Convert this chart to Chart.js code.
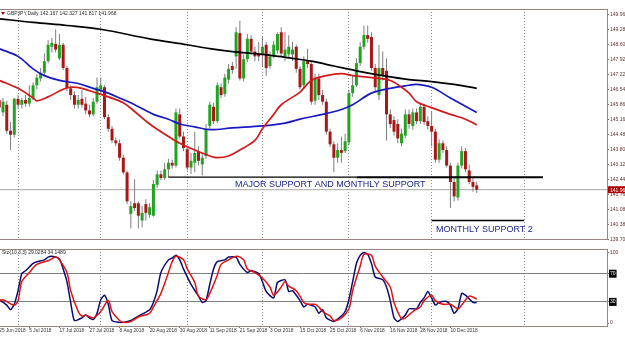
<!DOCTYPE html>
<html>
<head>
<meta charset="utf-8">
<script src="https://cdn.jsdelivr.net/npm/chart.js@4.4.1/dist/chart.umd.min.js"></script>
<style>
    html, body { margin: 0; padding: 0; background: #ffffff; }
    body { width: 625px; height: 337px; position: relative; overflow: hidden; }
    #main { position: absolute; left: 0; top: 0; }
    #osc { position: absolute; left: 0; top: 240px; }
</style>
</head>
<body>
<canvas id="main" width="625" height="242"></canvas>
<canvas id="osc" width="625" height="97"></canvas>
<script>
// ========================================
// GBPJPY 일봉 - 데이터
// ========================================

// 캔들 (2018-06-25 부터 거래일 순서)
const opens = [
    146.07,145.50,145.85,144.66,144.48,146.12,145.85,146.07,145.90,146.16,
    146.74,147.05,147.31,147.84,148.50,148.63,147.97,148.59,147.53,146.60,
    146.29,145.85,146.12,145.90,145.59,145.41,145.99,146.47,146.65,145.28,
    144.75,144.22,144.09,143.43,142.76,140.86,141.35,141.35,140.56,141.31,
    140.82,140.78,142.19,142.67,142.50,142.90,143.20,143.07,145.41,144.40,
    143.82,142.98,143.20,143.73,143.12,143.51,144.88,145.76,145.10,146.65,
    146.34,147.00,147.62,148.06,149.12,147.05,147.93,148.86,148.28,148.19,
    148.15,148.59,147.62,148.06,148.33,149.16,148.06,148.15,148.15,148.50,
    147.49,146.74,147.84,147.71,146.03,147.05,146.29,145.99,144.62,144.04,
    143.43,143.78,143.73,144.13,146.38,146.74,147.75,148.50,149.03,148.94,
    147.53,146.29,147.53,147.40,145.41,145.15,144.97,144.09,144.44,145.41,
    144.88,145.50,145.10,145.76,145.10,144.88,144.62,143.34,144.09,143.78,
    143.07,142.32,141.61,143.07,143.73,142.85,142.32,142.167
];
const highs = [
    146.29,146.16,146.03,145.06,146.16,146.29,146.16,146.29,146.74,146.87,
    147.27,147.53,148.19,148.81,148.90,149.30,149.08,148.68,147.62,146.74,
    146.47,146.29,146.52,146.21,145.85,146.16,147.09,147.09,146.74,145.41,
    144.88,144.35,144.26,143.56,142.85,141.44,142.45,141.44,141.22,141.53,
    141.35,142.41,142.85,142.85,143.20,143.38,143.34,145.68,145.68,144.62,
    143.87,143.65,144.62,143.95,143.65,144.97,145.99,145.94,146.87,146.82,
    147.27,147.71,147.80,149.39,149.69,148.15,149.08,149.03,148.50,148.72,
    148.94,148.72,148.28,148.77,149.16,149.39,149.16,149.03,148.72,148.59,
    147.62,148.06,148.41,147.84,147.27,147.27,146.52,146.12,144.75,144.18,
    144.09,144.40,144.53,146.52,147.18,147.97,148.72,149.47,149.47,149.16,
    147.71,148.59,148.28,147.97,145.63,145.32,145.19,144.75,145.63,145.63,
    145.68,145.68,145.94,145.90,145.32,145.54,144.75,144.26,144.22,143.95,
    143.20,142.50,143.20,143.95,143.87,143.12,142.50,142.327
];
const lows = [
    145.50,145.32,144.53,143.78,144.35,145.68,145.68,145.76,145.76,146.07,
    146.56,146.91,147.18,147.75,148.24,148.24,147.88,147.44,146.47,146.07,
    145.68,145.68,145.72,145.41,145.28,145.32,145.90,146.29,145.19,144.62,
    144.09,143.95,143.29,142.67,141.31,140.20,141.00,140.20,140.25,140.56,
    140.69,140.73,142.06,142.41,142.41,142.54,142.94,142.98,144.31,143.73,
    142.85,142.67,142.76,143.07,142.63,143.38,144.75,144.97,145.01,146.16,
    146.21,146.82,147.27,147.49,146.96,146.91,147.80,148.15,147.84,147.84,
    147.62,147.18,147.49,147.97,148.19,148.06,147.84,147.97,147.84,147.31,
    146.56,146.60,147.53,145.85,145.85,146.07,145.85,144.48,143.91,142.76,
    143.20,143.20,143.65,144.00,146.21,146.65,147.62,148.37,148.68,147.40,
    146.47,146.07,146.96,144.22,144.79,144.44,144.09,143.95,144.31,144.75,
    144.71,144.97,144.97,144.93,144.71,143.95,143.20,143.20,143.65,142.98,
    141.13,141.44,141.48,142.94,142.76,142.23,141.88,141.817
];
const closes = [
    145.72,145.99,144.66,144.48,146.12,145.85,146.07,145.90,146.16,146.74,
    147.09,147.31,147.84,148.59,148.68,148.37,148.59,147.53,146.60,146.29,
    145.85,146.07,145.85,145.59,145.41,145.99,146.65,146.74,145.28,144.75,
    144.22,144.09,143.43,142.76,141.44,141.22,141.13,140.78,140.91,140.91,
    141.17,142.23,142.67,142.50,142.90,143.20,143.07,145.50,144.40,143.87,
    142.98,143.29,143.65,143.29,143.43,144.75,145.85,145.10,146.74,146.29,
    147.09,147.49,147.44,149.16,147.05,147.93,148.86,148.28,148.06,148.06,
    148.50,147.53,148.06,148.59,149.08,148.19,148.37,148.50,148.37,147.49,
    146.65,147.84,147.71,145.99,147.09,146.29,145.99,144.62,144.04,143.43,
    143.78,143.65,144.18,146.38,146.74,147.75,148.50,149.03,148.86,147.53,
    146.65,147.53,147.18,145.41,144.97,144.62,144.31,144.53,145.41,144.97,
    145.50,145.10,145.76,145.06,144.88,144.62,143.34,144.09,143.78,143.07,
    142.32,141.66,143.07,143.73,142.90,142.32,142.10,141.968
];

// 이동평균선 [거래일 번호, 값]
const maBlack = [[0,149.78],[9,149.61],[18,149.47],[27,149.30],[40,148.86],[50,148.59],[56,148.41],[62,148.28],[70,148.15],[78,147.97],[83,147.84],[89,147.62],[95,147.40],[102,147.18],[109,147.00],[115,146.91],[121,146.78],[127,146.60]];
const maBlue = [[0,148.41],[5,148.06],[9,147.49],[12,147.18],[16,146.96],[21,146.82],[25,146.60],[29,146.38],[32,146.16],[36,145.85],[41,145.41],[45,145.19],[48,144.97],[52,144.84],[56,144.71],[62,144.79],[70,144.88],[76,145.01],[80,145.19],[86,145.41],[91,145.63],[94,145.85],[99,146.38],[104,146.60],[109,146.74],[111,146.78],[115,146.65],[120,146.16],[127,145.50]];
const maRed = [[0,146.96],[5,146.60],[9,146.16],[10,146.03],[13,146.21],[17,146.56],[19,146.65],[22,146.60],[26,146.38],[29,146.21],[33,145.94],[36,145.54],[40,144.97],[45,144.40],[48,144.09],[52,143.78],[56,143.51],[58,143.43],[61,143.51],[64,143.78],[68,144.22],[70,144.75],[73,145.41],[75,145.85],[80,146.43],[83,146.96],[87,147.18],[91,147.27],[94,147.18],[99,147.09],[104,146.96],[107,146.65],[109,146.38],[111,145.99],[115,145.72],[120,145.41],[124,145.19],[127,144.93]];

// 스토캐스틱 (10,3,3)
const stochK = [[0,33.5],[2,25.4],[3,18.9],[4,26.6],[5,45.9],[6,70.4],[7,74.3],[9,84.6],[10,87.1],[12,89.7],[13,93.6],[14,94.9],[16,91.0],[17,76.8],[18,58.8],[19,29.2],[20,3.5],[22,7.3],[23,11.2],[24,7.3],[25,4.8],[26,13.8],[27,33.1],[28,39.5],[29,26.6],[30,3.5],[32,0.9],[33,0.9],[35,3.5],[37,9.9],[38,12.5],[40,18.9],[41,29.2],[42,45.9],[43,71.7],[45,89.7],[46,92.3],[47,96.1],[48,89.7],[49,76.8],[51,55.0],[53,38.2],[54,29.2],[55,31.8],[56,55.0],[57,76.8],[58,87.1],[60,89.7],[61,93.6],[63,93.6],[64,83.3],[66,71.7],[67,74.3],[69,70.4],[70,58.8],[71,44.7],[73,35.6],[74,57.5],[76,61.4],[77,44.7],[78,45.9],[80,31.8],[81,22.8],[82,26.6],[84,22.8],[85,13.8],[86,18.9],[87,7.3],[89,2.2],[91,9.9],[92,16.3],[93,33.1],[94,58.8],[95,84.6],[96,96.1],[97,100],[98,97.4],[99,84.6],[100,65.3],[102,61.4],[103,51.1],[104,31.8],[105,7.3],[106,2.2],[108,11.2],[109,20.2],[111,20.2],[112,29.2],[113,35.6],[114,44.7],[115,35.6],[116,25.4],[117,29.2],[119,30.5],[120,25.4],[121,13.8],[122,20.2],[123,42.1],[124,39.5],[126,29.2],[127,29.03]];
const stochD = [[0,31.8],[1,33.1],[4,25.4],[5,31.8],[6,58.8],[8,71.7],[10,83.3],[13,88.4],[15,93.6],[16,89.7],[18,71.7],[19,45.9],[21,16.3],[22,9.9],[23,11.2],[25,7.3],[27,16.3],[29,31.8],[30,16.3],[32,3.5],[33,0.9],[35,2.2],[37,8.6],[40,13.8],[41,22.8],[43,42.1],[45,71.7],[46,87.1],[47,94.9],[49,89.7],[50,76.8],[52,57.5],[53,38.2],[55,33.1],[56,42.1],[58,67.8],[59,83.3],[61,89.7],[63,94.9],[65,89.7],[66,76.8],[68,71.7],[70,64.0],[72,51.1],[73,39.5],[75,51.1],[76,58.8],[77,52.4],[79,45.9],[81,29.2],[82,26.6],[84,26.6],[85,22.8],[86,16.3],[88,9.9],[89,3.5],[91,7.3],[93,20.2],[94,45.9],[96,80.7],[97,97.4],[99,96.1],[100,80.7],[102,65.3],[104,51.1],[105,29.2],[107,6.0],[108,7.3],[110,16.3],[112,22.8],[113,31.8],[115,39.5],[116,31.8],[118,26.6],[120,26.6],[122,20.2],[123,25.4],[125,38.2],[127,34.15]];

// 축 눈금
const priceTicks = [139.700,140.380,141.080,141.760,142.440,143.120,143.800,144.480,145.160,145.860,146.540,147.220,147.920,148.600,149.280,149.960];
const stochTicks = [0, 30, 70, 100];
const stochLevels = [30, 70];
const dateLabels = ['25 Jun 2018','5 Jul 2018','17 Jul 2018','27 Jul 2018','8 Aug 2018','20 Aug 2018','30 Aug 2018','11 Sep 2018','21 Sep 2018','3 Oct 2018','15 Oct 2018','25 Oct 2018','6 Nov 2018','16 Nov 2018','28 Nov 2018','10 Dec 2018'];
const monthStarts = [5, 27, 50, 70, 93, 115, 139.6];

// 지지선 / 메모
const majorSupport = 142.54;
const majorSupportRange = [45, 95, 144.6];
const monthlySupport2 = 140.56;
const monthlySupport2Range = [115, 139.6];
const notes = [
    { text: 'MAJOR SUPPORT AND MONTHLY SUPPORT', at: 62.7, price: 142.19 },
    { text: 'MONTHLY SUPPORT 2', at: 116.2, price: 140.16 }
];

// ========================================
// 공통
// ========================================
const X_MIN = 0.2;
const X_MAX = 161.65;
const FONT = '"Liberation Sans", Arial, sans-serif';
const SMALL_FONT = '"Liberation Sans Narrow", "Liberation Sans", Arial, sans-serif';
const UP = '#22a322';
const DOWN = '#ab1616';
const FRAME = '#9a8484';
const AXIS_TEXT = '#6a3030';

const monthNames = ['Jan','Feb','Mar','Apr','May','Jun','Jul','Aug','Sep','Oct','Nov','Dec'];

// 거래일 목록 (주말 제외)
function tradingDays(start, count) {
    const list = [];
    const d = new Date(start);
    while (list.length < count) {
        const wd = d.getUTCDay();
        if (wd !== 0 && wd !== 6) {
            list.push(d.getUTCDate() + ' ' + monthNames[d.getUTCMonth()] + ' ' + d.getUTCFullYear());
        }
        d.setUTCDate(d.getUTCDate() + 1);
    }
    return list;
}
const dates = tradingDays(Date.UTC(2018, 5, 25), closes.length);
const dateTickIdx = dateLabels.map(l => dates.indexOf(l));

const toPoints = arr => arr.map(p => ({ x: p[0], y: p[1] }));

function lineDs(points, color, width, order) {
    return {
        type: 'line',
        data: toPoints(points),
        borderColor: color,
        borderWidth: width,
        pointRadius: 0,
        tension: 0.35,
        fill: false,
        order: order
    };
}

function levelDs(from, to, price, width) {
    return {
        type: 'line',
        data: [{ x: from, y: price }, { x: to, y: price }],
        borderColor: '#000000',
        borderWidth: width,
        pointRadius: 0,
        fill: false,
        order: 1
    };
}

function fixAxis(width) {
    return function(scale) {
        scale.width = width;
        scale.paddingTop = 0;
        scale.paddingBottom = 0;
    };
}

// ========================================
// 가격 차트
// ========================================
const idx = closes.map((c, i) => i);
const lastClose = closes[closes.length - 1];
const last = closes.length - 1;
const headerText = 'GBPJPY,Daily ' + [opens[last], highs[last], lows[last], closes[last]].map(v => v.toFixed(3)).join(' ');

const mainText = {
    id: 'mainText',
    afterDatasetsDraw(chart) {
        const { ctx, scales: { x, y } } = chart;
        ctx.save();
        ctx.font = '9px ' + FONT;
        ctx.fillStyle = '#1d2890';
        ctx.textBaseline = 'middle';
        notes.forEach(n => ctx.fillText(n.text, x.getPixelForValue(n.at), y.getPixelForValue(n.price)));
        ctx.restore();
    },
    afterDraw(chart) {
        const { ctx, chartArea: a, scales: { y } } = chart;
        ctx.save();
        // 좌상단 심볼 표시
        ctx.fillStyle = '#c00000';
        ctx.beginPath();
        ctx.moveTo(a.left + 1, a.top + 3);
        ctx.lineTo(a.left + 5, a.top + 3);
        ctx.lineTo(a.left + 3, a.top + 6);
        ctx.closePath();
        ctx.fill();
        ctx.font = '5px ' + SMALL_FONT;
        ctx.fillStyle = '#2a2a2a';
        ctx.textBaseline = 'middle';
        ctx.fillText(headerText, a.left + 7, a.top + 4.5);
        // 현재가 박스
        const py = y.getPixelForValue(lastClose);
        ctx.fillStyle = '#b00000';
        ctx.fillRect(a.right + 1, py - 3.5, 17, 7);
        ctx.fillStyle = '#ffffff';
        ctx.fillText(lastClose.toFixed(3), a.right + 3, py + 0.5);
        ctx.restore();
    }
};

new Chart(document.getElementById('main'), {
    type: 'bar',
    data: {
        datasets: [
            {
                type: 'line',
                data: [{ x: X_MIN, y: lastClose }, { x: X_MAX, y: lastClose }],
                borderColor: '#a8a8a8',
                borderWidth: 1,
                pointRadius: 0,
                order: 10
            },
            {
                type: 'bar',
                data: idx.map(i => ({ x: i, y: [lows[i], highs[i]] })),
                backgroundColor: '#7e7e7e',
                barThickness: 1,
                grouped: false,
                inflateAmount: 0,
                order: 9
            },
            {
                type: 'bar',
                data: idx.map(i => ({ x: i, y: [opens[i], closes[i]] })),
                backgroundColor: idx.map(i => closes[i] >= opens[i] ? UP : DOWN),
                barThickness: 3,
                grouped: false,
                minBarLength: 1,
                inflateAmount: 0,
                order: 8
            },
            lineDs(maBlack, '#000000', 1.7, 4),
            lineDs(maBlue, '#1a1ac4', 1.7, 3),
            lineDs(maRed, '#d21a1a', 1.7, 2),
            levelDs(majorSupportRange[0], majorSupportRange[1], majorSupport, 1.2),
            levelDs(majorSupportRange[1], majorSupportRange[2], majorSupport, 2),
            levelDs(monthlySupport2Range[0], monthlySupport2Range[1], monthlySupport2, 1.5)
        ]
    },
    options: {
        responsive: false,
        animation: false,
        devicePixelRatio: 1,
        layout: { padding: { top: 1, bottom: 3, left: 0, right: 0 } },
        plugins: { legend: { display: false }, tooltip: { enabled: false } },
        scales: {
            x: {
                type: 'linear',
                min: X_MIN,
                max: X_MAX,
                offset: false,
                afterBuildTicks: s => { s.ticks = monthStarts.map(v => ({ value: v })); },
                grid: { color: '#8c8c8c', drawTicks: false, offset: false },
                border: { display: true, color: FRAME, dash: [1, 2] },
                ticks: { display: false }
            },
            xt: {
                type: 'linear',
                position: 'top',
                min: X_MIN,
                max: X_MAX,
                grid: { display: false },
                border: { display: true, color: FRAME },
                ticks: { display: false }
            },
            y: {
                position: 'right',
                min: 139.716,
                max: 150.224,
                afterBuildTicks: s => { s.ticks = priceTicks.map(v => ({ value: v })); },
                afterFit: fixAxis(18),
                grid: { drawOnChartArea: false, tickLength: 2, color: '#8a7070' },
                border: { color: FRAME },
                ticks: {
                    autoSkip: false,
                    padding: 1,
                    color: AXIS_TEXT,
                    font: { size: 5, family: SMALL_FONT },
                    callback: v => v.toFixed(3)
                }
            }
        }
    },
    plugins: [mainText]
});

// ========================================
// 스토캐스틱 차트
// ========================================
const oscText = {
    id: 'oscText',
    afterDraw(chart) {
        const { ctx, chartArea: a } = chart;
        ctx.save();
        ctx.font = '5px ' + SMALL_FONT;
        ctx.fillStyle = '#2a2a2a';
        ctx.textBaseline = 'middle';
        ctx.fillText('Sto(10,3,3) 29.0284 34.1489', a.left + 2, a.top + 4);
        ctx.restore();
    }
};

new Chart(document.getElementById('osc'), {
    type: 'line',
    data: {
        datasets: [
            { data: toPoints(stochK), borderColor: '#0b0b70', borderWidth: 1.5, pointRadius: 0, tension: 0.2, order: 2 },
            { data: toPoints(stochD), borderColor: '#e01414', borderWidth: 1.5, pointRadius: 0, tension: 0.3, order: 1 }
        ]
    },
    options: {
        responsive: false,
        animation: false,
        devicePixelRatio: 1,
        layout: { padding: { top: 1, bottom: 2, left: 0, right: 0 } },
        plugins: { legend: { display: false }, tooltip: { enabled: false } },
        scales: {
            x: {
                type: 'linear',
                min: X_MIN,
                max: X_MAX,
                afterBuildTicks: s => { s.ticks = monthStarts.map(v => ({ value: v })); },
                grid: { color: '#8c8c8c', drawTicks: false },
                border: { display: false, dash: [1, 2] },
                ticks: { display: false }
            },
            xd: {
                type: 'linear',
                position: 'bottom',
                min: X_MIN,
                max: X_MAX,
                afterBuildTicks: s => { s.ticks = dateTickIdx.map(v => ({ value: v })); },
                afterFit: s => { s.height = 9; s.paddingLeft = 0; s.paddingRight = 0; },
                grid: { drawOnChartArea: false, tickLength: 2, color: '#777777' },
                border: { display: true, color: FRAME },
                ticks: {
                    autoSkip: false,
                    maxRotation: 0,
                    align: 'start',
                    padding: 0,
                    color: '#333333',
                    font: { size: 4.8, family: SMALL_FONT },
                    callback: (v, i) => dateLabels[i]
                }
            },
            xt: {
                type: 'linear',
                position: 'top',
                min: X_MIN,
                max: X_MAX,
                grid: { display: false },
                border: { display: true, color: FRAME },
                ticks: { display: false }
            },
            y: {
                position: 'right',
                min: -4.25,
                max: 105.1,
                afterBuildTicks: s => { s.ticks = stochTicks.map(v => ({ value: v })); },
                afterFit: fixAxis(18),
                grid: {
                    color: c => stochLevels.includes(c.tick.value) ? '#7f7f7f' : 'rgba(0,0,0,0)',
                    tickColor: '#8a7070',
                    tickLength: 2
                },
                border: { color: FRAME },
                ticks: {
                    autoSkip: false,
                    padding: 1,
                    font: { size: 5, family: SMALL_FONT },
                    color: c => stochLevels.includes(c.tick.value) ? '#ffffff' : AXIS_TEXT,
                    showLabelBackdrop: c => stochLevels.includes(c.tick.value),
                    backdropColor: '#000000',
                    backdropPadding: 1,
                    callback: v => String(v)
                }
            }
        }
    },
    plugins: [oscText]
});
</script>
</body>
</html>
